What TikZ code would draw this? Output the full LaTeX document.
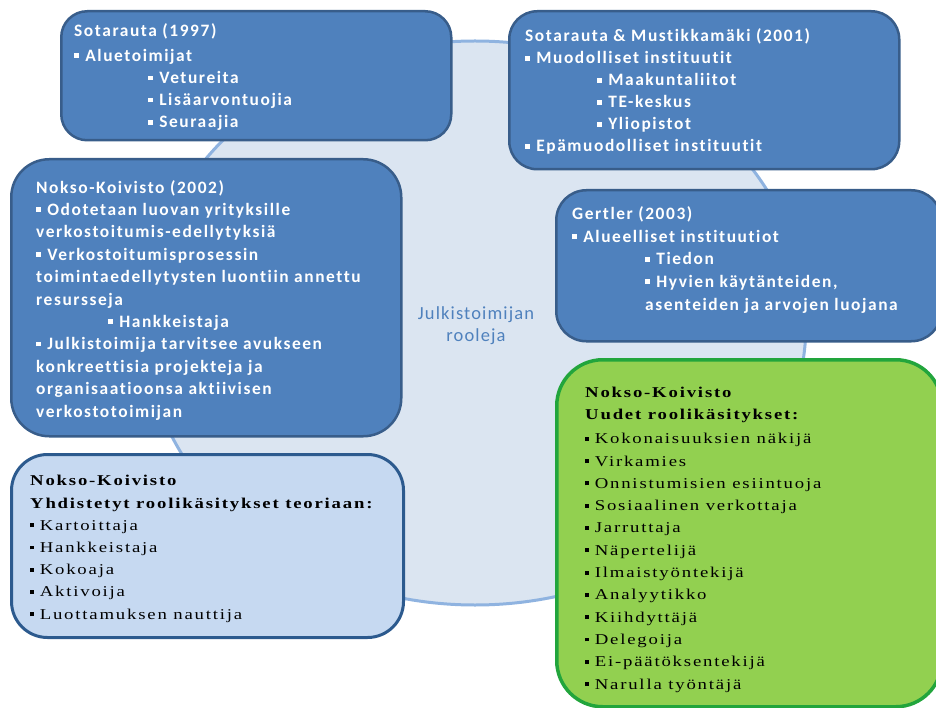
\documentclass[tikz,border=0pt]{standalone}
\usepackage{fontspec}
\newfontfamily\panelfont[LetterSpace=9,Ligatures=NoCommon]{Carlito}
\newfontfamily\notefont[FakeStretch=1.25,LetterSpace=12,Ligatures=NoCommon]{Liberation Serif}
\newfontfamily\hubfont[LetterSpace=6]{Carlito}

\definecolor{panelfill}{HTML}{4F81BD}
\definecolor{paneledge}{HTML}{385D8A}
\definecolor{palefill}{HTML}{C6D9F1}
\definecolor{paleedge}{HTML}{2C5A8E}
\definecolor{greenfill}{HTML}{92D050}
\definecolor{greenedge}{HTML}{22A53C}
\definecolor{hubfill}{HTML}{DBE5F1}
\definecolor{hubedge}{HTML}{8FB3E0}

% small square bullet
\newcommand{\sqb}{\raisebox{0.2em}{\rule{0.26em}{0.26em}}\hspace{0.38em}}

\tikzset{
  bluepanel/.style={draw=paneledge, fill=panelfill, line width=2.5pt,
    rounded corners=#1, anchor=north west, inner sep=0pt},
  palepanel/.style={draw=paleedge, fill=palefill, line width=3pt,
    rounded corners=#1, anchor=north west, inner sep=0pt},
  greenpanel/.style={draw=greenedge, fill=greenfill, line width=3.5pt,
    rounded corners=#1, anchor=north west, inner sep=0pt},
  % multi-line text is placed by the baseline of its last line
  bluetext/.style={text=white, anchor=base west, inner sep=0pt, align=left,
    font=\panelfont\bfseries\fontsize{17.4}{#1}\selectfont},
  seriftext/.style={text=black, anchor=base west, inner sep=0pt, align=left,
    font=\notefont\fontsize{15}{#1}\selectfont},
}

\begin{document}
\begin{tikzpicture}[x=1pt,y=-1pt]
\useasboundingbox (0,0) rectangle (936,708);

% central hub
\draw[fill=hubfill, draw=hubedge, line width=3pt] (475,323) ellipse [x radius=331, y radius=282];
\node[text=panelfill, font=\hubfont\fontsize{18.5}{22}\selectfont, align=center] (hub) at (476,326)
  {Julkistoimijan\\rooleja};

% panels
\node[bluepanel=26pt, minimum width=390pt, minimum height=129pt] (p1) at (60,10) {};
\node[bluepanel=28pt, minimum width=390pt, minimum height=158pt] (p2) at (508,10) {};
\node[bluepanel=38pt, minimum width=390pt, minimum height=277pt] (p3) at (10,158) {};
\node[bluepanel=30pt, minimum width=385pt, minimum height=151pt] (p4) at (555,189) {};
\node[palepanel=36pt, minimum width=392pt, minimum height=183pt] (p5) at (10,453) {};
\node[greenpanel=46pt, minimum width=385pt, minimum height=347pt] (p6) at (555,358) {};

% panel texts
\node[bluetext=22.2] (t1) at (74,128) {Sotarauta (1997)\\[2.5pt]
\sqb Aluetoimijat\\
\hspace*{74pt}\sqb Vetureita\\
\hspace*{74pt}\sqb Lisäarvontuojia\\
\hspace*{74pt}\sqb Seuraajia};

\node[bluetext=22] (t2) at (525,152) {Sotarauta \& Mustikkamäki (2001)\\
\sqb Muodolliset instituutit\\
\hspace*{72pt}\sqb Maakuntaliitot\\
\hspace*{72pt}\sqb TE-keskus\\
\hspace*{72pt}\sqb Yliopistot\\
\sqb Epämuodolliset instituutit};

\node[bluetext=22.4] (t3) at (36,417) {Nokso-Koivisto (2002)\\
\sqb Odotetaan luovan yrityksille\\
verkostoitumis-edellytyksiä\\
\sqb Verkostoitumisprosessin\\
toimintaedellytysten luontiin annettu\\
resursseja\\
\hspace*{72pt}\sqb Hankkeistaja\\
\sqb Julkistoimija tarvitsee avukseen\\
konkreettisia projekteja ja\\
organisaatioonsa aktiivisen\\
verkostotoimijan};

\node[bluetext=22.5] (t4) at (572,310) {Gertler (2003)\\
\sqb Alueelliset instituutiot\\
\hspace*{73pt}\sqb Tiedon\\
\hspace*{73pt}\sqb Hyvien käytänteiden,\\
\hspace*{73pt}asenteiden ja arvojen luojana};

\node[seriftext=22.2] (t5) at (30,619) {\textbf{Nokso-Koivisto}\\
\textbf{Yhdistetyt roolikäsitykset teoriaan:}\\
\sqb Kartoittaja\\
\sqb Hankkeistaja\\
\sqb Kokoaja\\
\sqb Aktivoija\\
\sqb Luottamuksen nauttija};

\node[seriftext=22.3] (t6) at (585,689) {\textbf{Nokso-Koivisto}\\
\textbf{Uudet roolikäsitykset:}\\[1.5pt]
\sqb Kokonaisuuksien näkijä\\
\sqb Virkamies\\
\sqb Onnistumisien esiintuoja\\
\sqb Sosiaalinen verkottaja\\
\sqb Jarruttaja\\
\sqb Näpertelijä\\
\sqb Ilmaistyöntekijä\\
\sqb Analyytikko\\
\sqb Kiihdyttäjä\\
\sqb Delegoija\\
\sqb Ei-päätöksentekijä\\
\sqb Narulla työntäjä};
\end{tikzpicture}
\end{document}
